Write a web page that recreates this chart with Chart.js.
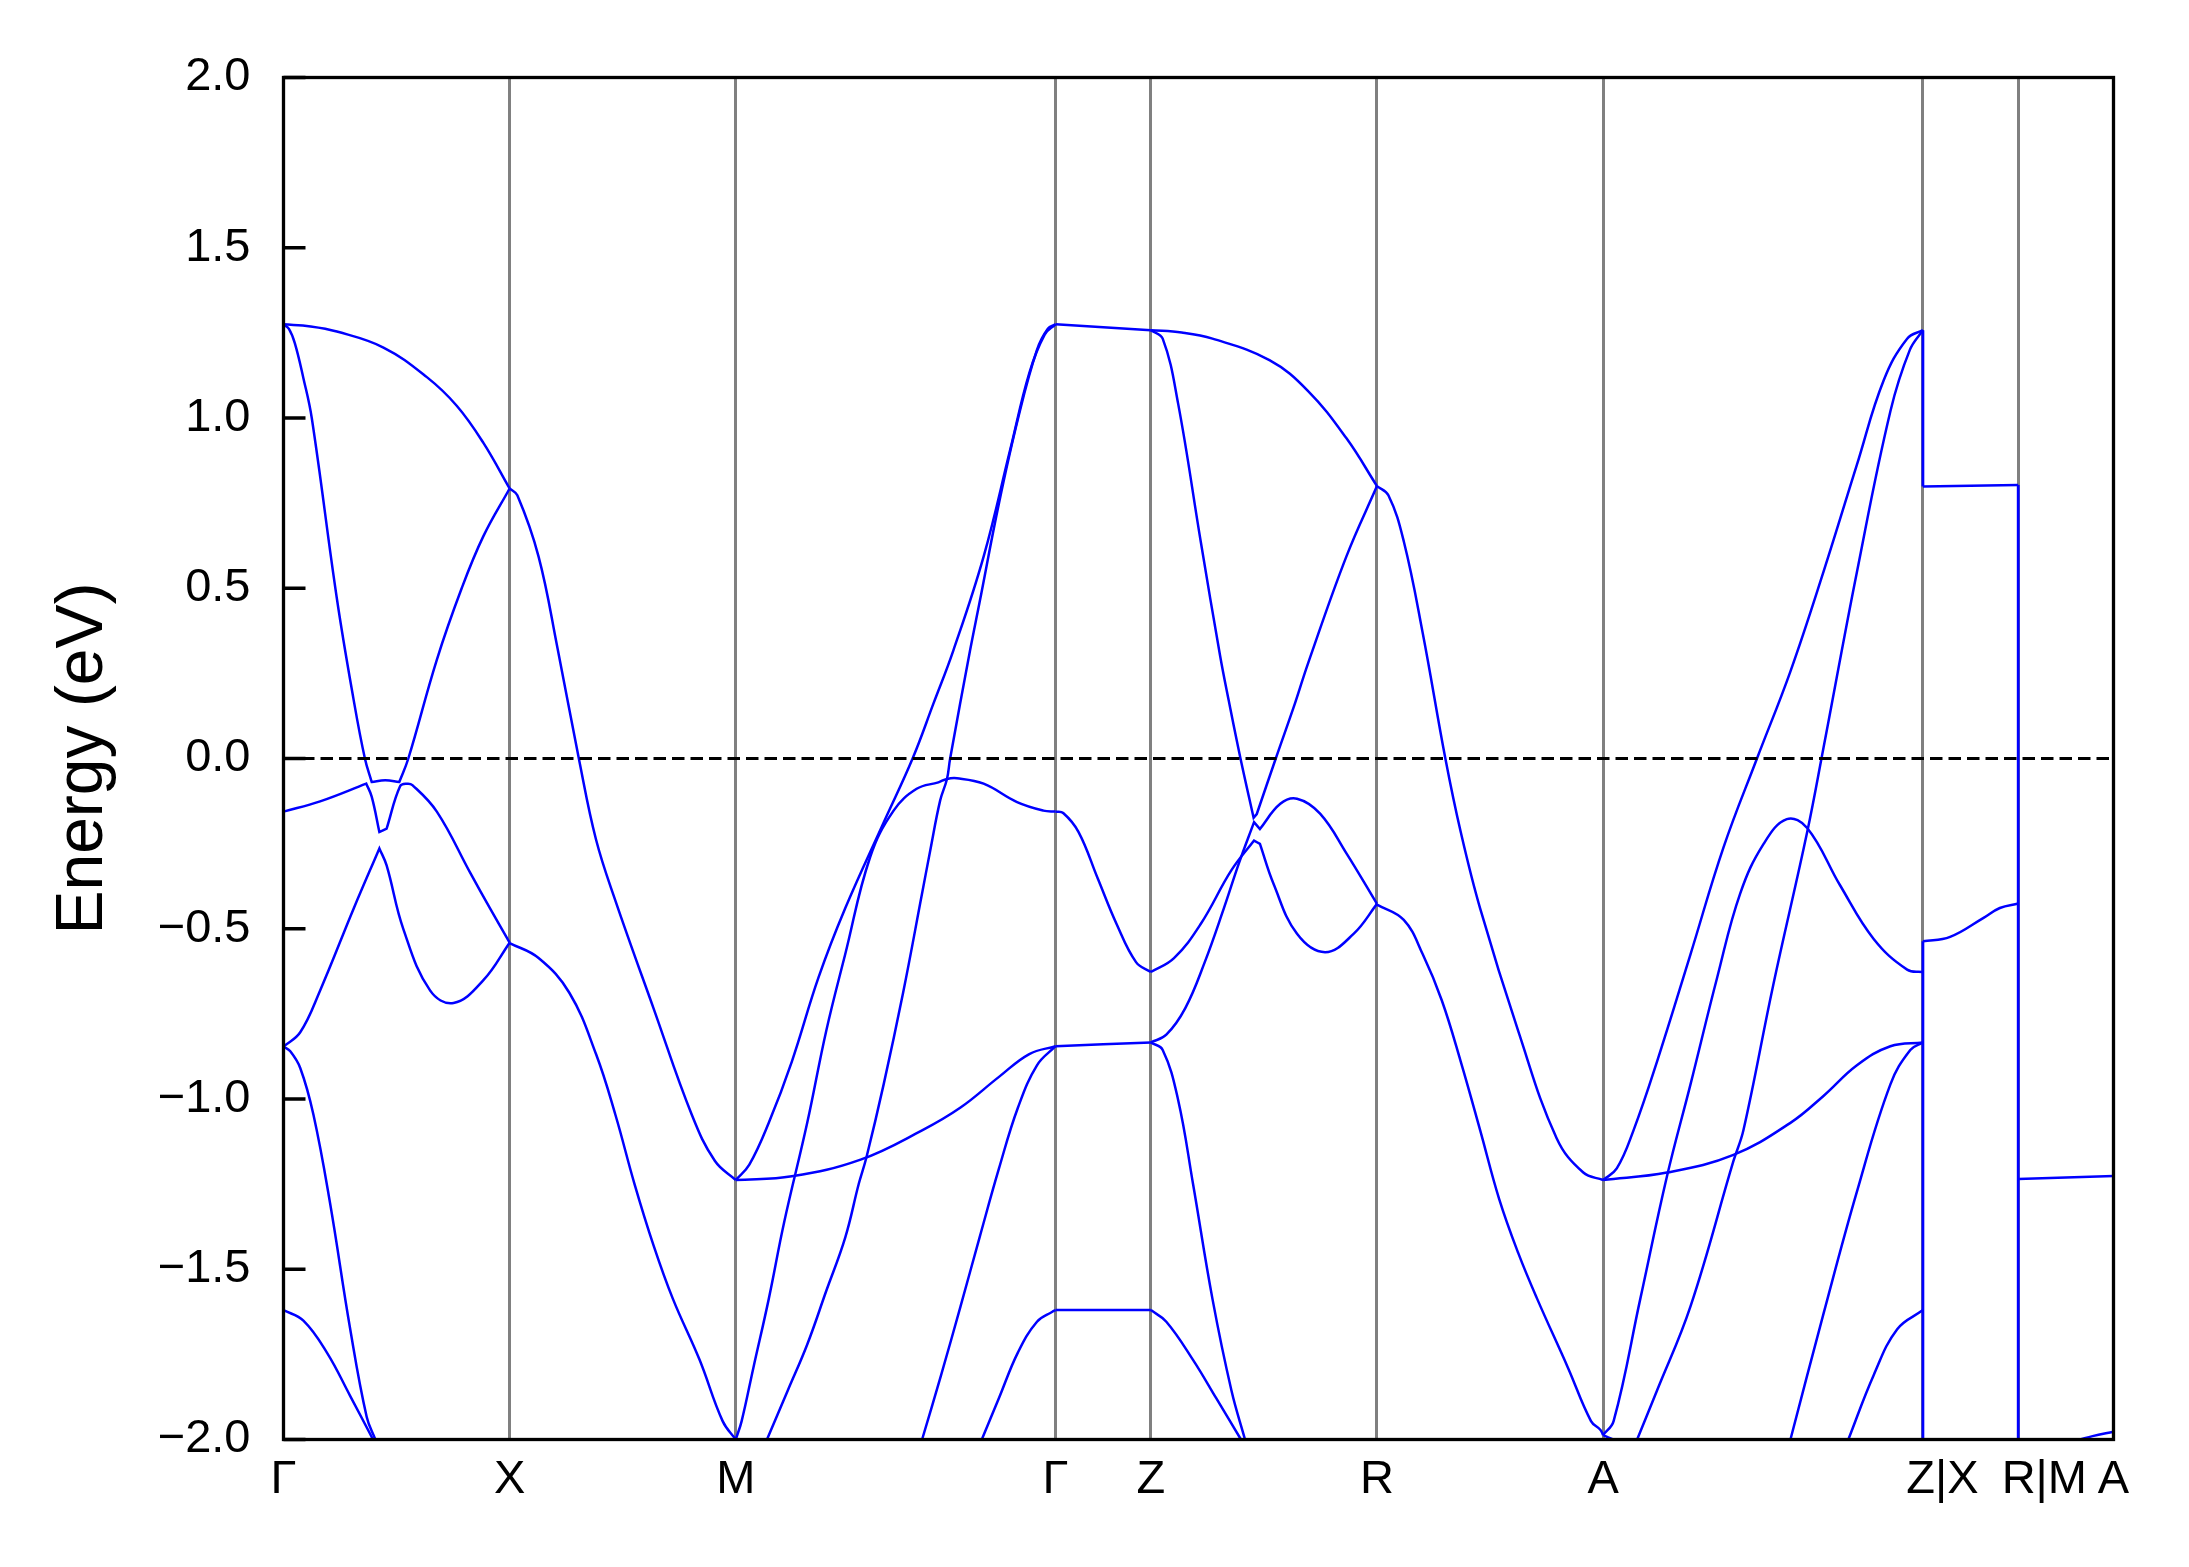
<!DOCTYPE html>
<html>
<head>
<meta charset="utf-8">
<script src="https://cdn.jsdelivr.net/npm/chart.js@4/dist/chart.umd.min.js"></script>
<style>
html,body{margin:0;padding:0;background:#ffffff;}
canvas{display:block;}
</style>
</head>
<body>
<canvas id="c" width="2189" height="1567" style="width:2189px;height:1567px"></canvas>
<script>
// ---- high-symmetry path ----
const kTicks = [0, 0.5, 1.0, 1.7071, 1.9178, 2.4178, 2.9178, 3.6249, 3.8356, 4.0463];
const kLabels = ['Γ', 'X', 'M', 'Γ', 'Z', 'R', 'A', '   Z|X', '    R|M', 'A'];
const energyTicks = [-2, -1.5, -1, -0.5, 0, 0.5, 1, 1.5, 2];
const fermiLevel = [[0, 0], [4.0463, 0]];

// ---- bands: [k, E(eV)]; a repeated point marks a sharp corner ----
// Γ → X
const bandGX1 = [[0,1.275],[0.06,1.269],[0.118,1.254],[0.221,1.207],[0.317,1.120],[0.383,1.036],[0.442,0.927],[0.5,0.793]];
const bandGX2 = [[0,1.275],[0.012,1.262],[0.025,1.22],[0.044,1.117],[0.0625,1.0],[0.118,0.47],[0.155,0.173],[0.18,0.0],[0.195,-0.069],[0.195,-0.069],[0.225,-0.064],[0.256,-0.069],[0.256,-0.069],[0.276,0.0],[0.339,0.29],[0.394,0.5],[0.442,0.653],[0.5,0.793]];
const bandGX3 = [[0,-0.156],[0.081,-0.126],[0.183,-0.074],[0.183,-0.074],[0.195,-0.112],[0.212,-0.216],[0.212,-0.216],[0.228,-0.206],[0.228,-0.206],[0.258,-0.081],[0.273,-0.074],[0.285,-0.078],[0.339,-0.156],[0.413,-0.336],[0.457,-0.441],[0.5,-0.541]];
const bandGX4 = [[0,-0.846],[0.037,-0.804],[0.081,-0.681],[0.155,-0.441],[0.212,-0.264],[0.212,-0.264],[0.228,-0.314],[0.265,-0.501],[0.324,-0.681],[0.376,-0.718],[0.442,-0.651],[0.5,-0.541]];
const bandGX5 = [[0,-0.846],[0.015,-0.86],[0.037,-0.909],[0.066,-1.045],[0.103,-1.306],[0.147,-1.672],[0.184,-1.934],[0.203,-2.0]];
const bandGX6 = [[0,-1.62],[0.044,-1.651],[0.096,-1.745],[0.147,-1.871],[0.198,-2.0]];
// X → M
const bandXM1 = [[0.5,0.793],[0.517,0.773],[0.564,0.593],[0.606,0.323],[0.653,0.0],[0.691,-0.238],[0.734,-0.418],[0.818,-0.733],[0.903,-1.047],[0.954,-1.182],[1.0,-1.238]];
const bandXM2 = [[0.5,-0.542],[0.564,-0.586],[0.632,-0.688],[0.691,-0.868],[0.734,-1.047],[0.776,-1.249],[0.818,-1.429],[0.861,-1.587],[0.920,-1.766],[0.971,-1.946],[1.0,-2.0]];
// M → Γ
const bandMG1 = [[1.0,-1.238],[1.030,-1.193],[1.073,-1.070],[1.124,-0.890],[1.183,-0.643],[1.242,-0.440],[1.327,-0.188],[1.391,0.0],[1.437,0.161],[1.481,0.317],[1.548,0.593],[1.607,0.908],[1.649,1.132],[1.683,1.245],[1.7071,1.275]];
const bandMG2 = [[1.069,-2.0],[1.115,-1.856],[1.158,-1.721],[1.200,-1.564],[1.242,-1.407],[1.272,-1.249],[1.289,-1.171],[1.327,-0.957],[1.370,-0.688],[1.412,-0.396],[1.430,-0.270],[1.452,-0.123],[1.467,-0.060],[1.474,0.0],[1.518,0.317],[1.539,0.458],[1.582,0.750],[1.624,0.998],[1.666,1.2],[1.69,1.262],[1.7071,1.275]];
const bandMG3 = [[1.0,-2.0],[1.013,-1.946],[1.039,-1.789],[1.073,-1.587],[1.107,-1.362],[1.158,-1.070],[1.200,-0.800],[1.242,-0.575],[1.297,-0.290],[1.349,-0.153],[1.400,-0.089],[1.448,-0.070],[1.467,-0.060],[1.489,-0.058],[1.548,-0.074],[1.622,-0.128],[1.680,-0.153],[1.7071,-0.156]];
const bandMG4 = [[1.0,-1.238],[1.124,-1.227],[1.276,-1.178],[1.412,-1.092],[1.497,-1.025],[1.582,-0.935],[1.649,-0.868],[1.7071,-0.845]];
const bandMG5 = [[1.412,-2.0],[1.454,-1.811],[1.497,-1.609],[1.539,-1.407],[1.582,-1.204],[1.624,-1.025],[1.666,-0.901],[1.7071,-0.845]];
const bandMG6 = [[1.544,-2.0],[1.582,-1.878],[1.624,-1.744],[1.666,-1.654],[1.700,-1.625],[1.7071,-1.62]];
// Γ → Z
const bandGZ1 = [[1.7071,1.275],[1.9178,1.258]];
const bandGZ2 = [[1.7071,-0.156],[1.724,-0.160],[1.758,-0.216],[1.800,-0.351],[1.842,-0.486],[1.885,-0.598],[1.9178,-0.627]];
const bandGZ3 = [[1.7071,-0.845],[1.9178,-0.834]];
const bandGZ4 = [[1.7071,-1.62],[1.9178,-1.62]];
// Z → R
const bandZR1 = [[1.9178,1.258],[1.986,1.251],[2.054,1.233],[2.180,1.170],[2.265,1.080],[2.350,0.941],[2.4178,0.800]];
const bandZR2 = [[1.9178,1.258],[1.944,1.233],[1.978,1.043],[2.028,0.638],[2.071,0.301],[2.090,0.170],[2.116,0.0],[2.145,-0.174],[2.145,-0.174],[2.152,-0.163],[2.152,-0.163],[2.194,0.0],[2.237,0.164],[2.265,0.278],[2.350,0.593],[2.4178,0.800]];
const bandZR3 = [[1.9178,-0.627],[1.969,-0.586],[2.028,-0.486],[2.096,-0.328],[2.146,-0.241],[2.146,-0.241],[2.159,-0.251],[2.159,-0.251],[2.189,-0.368],[2.241,-0.515],[2.303,-0.569],[2.366,-0.515],[2.4178,-0.427]];
const bandZR4 = [[1.9178,-0.834],[1.952,-0.811],[1.994,-0.733],[2.037,-0.598],[2.079,-0.441],[2.113,-0.306],[2.146,-0.187],[2.146,-0.187],[2.159,-0.207],[2.159,-0.207],[2.204,-0.133],[2.241,-0.118],[2.292,-0.162],[2.351,-0.280],[2.4178,-0.427]];
const bandZR5 = [[1.9178,-0.834],[1.944,-0.856],[1.978,-1.002],[2.011,-1.249],[2.054,-1.587],[2.096,-1.856],[2.126,-2.0]];
const bandZR6 = [[1.9178,-1.62],[1.952,-1.654],[2.011,-1.766],[2.062,-1.878],[2.117,-2.0]];
// R → A
const bandRA1 = [[2.4178,0.800],[2.443,0.773],[2.477,0.638],[2.519,0.368],[2.569,0.0],[2.603,-0.216],[2.646,-0.441],[2.730,-0.800],[2.815,-1.115],[2.874,-1.216],[2.9178,-1.238]];
const bandRA2 = [[2.4178,-0.429],[2.477,-0.474],[2.519,-0.575],[2.561,-0.710],[2.603,-0.890],[2.646,-1.092],[2.688,-1.294],[2.730,-1.452],[2.772,-1.587],[2.840,-1.789],[2.891,-1.946],[2.912,-1.972],[2.9178,-1.987]];
const bandRA3 = [[2.9178,-1.987],[2.94,-2.0]];
// A → Z
const bandAZ1 = [[2.9178,-1.238],[2.948,-1.204],[2.985,-1.092],[3.037,-0.890],[3.111,-0.575],[3.184,-0.261],[3.258,0.0],[3.332,0.256],[3.405,0.548],[3.479,0.863],[3.538,1.110],[3.590,1.233],[3.6249,1.258]];
const bandAZ2 = [[2.9178,-1.987],[2.941,-1.946],[3.000,-1.587],[3.059,-1.227],[3.111,-0.957],[3.170,-0.643],[3.221,-0.396],[3.273,-0.250],[3.324,-0.178],[3.369,-0.204],[3.442,-0.373],[3.516,-0.530],[3.590,-0.620],[3.6249,-0.627]];
const bandAZ3 = [[2.993,-2.0],[3.037,-1.856],[3.111,-1.609],[3.206,-1.182],[3.228,-1.092],[3.294,-0.665],[3.369,-0.216],[3.405,0.031],[3.479,0.548],[3.553,1.020],[3.596,1.2],[3.6249,1.258]];
const bandAZ4 = [[2.9178,-1.238],[3.059,-1.216],[3.206,-1.164],[3.332,-1.070],[3.405,-0.991],[3.479,-0.901],[3.553,-0.845],[3.6249,-0.834]];
const bandAZ5 = [[3.332,-2.0],[3.405,-1.631],[3.479,-1.272],[3.553,-0.957],[3.597,-0.856],[3.6249,-0.834]];
const bandAZ6 = [[3.460,-2.0],[3.516,-1.811],[3.568,-1.676],[3.6249,-1.62]];
// X → R and M → A
const bandXR1 = [[3.6249,0.799],[3.8356,0.803]];
const bandXR2 = [[3.6249,-0.537],[3.685,-0.524],[3.759,-0.468],[3.795,-0.439],[3.8356,-0.426]];
const bandMA1 = [[3.8356,-1.235],[4.0463,-1.226]];
const bandMA2 = [[3.972,-2.0],[4.0,-1.99],[4.0463,-1.977]];
// discontinuities of the path (Z|X, R|M)
const jumpZX1 = [[3.6249,1.258],[3.6249,0.799]];
const jumpZX2 = [[3.6249,-0.537],[3.6249,-2.0]];
const jumpRM = [[3.8356,0.803],[3.8356,-2.0]];

const bandList = [bandGX1,bandGX2,bandGX3,bandGX4,bandGX5,bandGX6,bandXM1,bandXM2,
  bandMG1,bandMG2,bandMG3,bandMG4,bandMG5,bandMG6,bandGZ1,bandGZ2,bandGZ3,bandGZ4,
  bandZR1,bandZR2,bandZR3,bandZR4,bandZR5,bandZR6,bandRA1,bandRA2,bandRA3,
  bandAZ1,bandAZ2,bandAZ3,bandAZ4,bandAZ5,bandAZ6,bandXR1,bandXR2,bandMA1,bandMA2];
const jumpList = [jumpZX1, jumpZX2, jumpRM];

const FONT = "'Liberation Sans', Arial, Helvetica, sans-serif";

const datasets = [{
  data: fermiLevel, showLine: true, borderColor: '#000000', borderWidth: 3.2,
  borderDash: [12.5, 6], pointRadius: 0, tension: 0
}];
bandList.forEach(b => datasets.push({
  data: b, showLine: true, borderColor: '#0000ff', borderWidth: 2.5,
  pointRadius: 0, tension: 0.4
}));
jumpList.forEach(b => datasets.push({
  data: b, showLine: true, borderColor: '#0000ff', borderWidth: 2.8,
  pointRadius: 0, tension: 0
}));

const framePlugin = {
  id: 'frame',
  afterDraw(chart) {
    const {ctx, chartArea: a, scales: {y}} = chart;
    ctx.save();
    ctx.strokeStyle = '#000000';
    ctx.lineWidth = 3.3;
    ctx.beginPath();
    energyTicks.forEach(v => {
      const py = y.getPixelForValue(v);
      ctx.moveTo(a.left, py);
      ctx.lineTo(a.left + 22, py);
    });
    ctx.stroke();
    ctx.strokeRect(a.left, a.top, a.right - a.left, a.bottom - a.top);
    ctx.restore();
  }
};

new Chart(document.getElementById('c'), {
  type: 'scatter',
  data: { datasets },
  options: {
    responsive: false,
    devicePixelRatio: 1,
    animation: false,
    events: [],
    layout: { padding: { left: 0, right: 75.5, top: 77.5, bottom: 0 } },
    plugins: { legend: { display: false }, tooltip: { enabled: false } },
    scales: {
      x: {
        type: 'linear',
        min: 0, max: 4.0463,
        afterBuildTicks: s => { s.ticks = kTicks.map(v => ({ value: v })); },
        afterFit: s => { s.height = 127.5; },
        grid: { color: '#808080', lineWidth: 3, drawTicks: false },
        border: { display: false },
        ticks: {
          autoSkip: false, maxRotation: 0, minRotation: 0, padding: 12,
          color: '#000000', font: { family: FONT, size: 47 },
          callback: (v, i) => kLabels[i]
        }
      },
      y: {
        min: -2, max: 2,
        afterBuildTicks: s => { s.ticks = energyTicks.map(v => ({ value: v })); },
        afterFit: s => { s.width = 283.5; },
        grid: { display: false, drawTicks: false },
        border: { display: false },
        ticks: {
          padding: 33, color: '#000000', font: { family: FONT, size: 47 },
          callback: v => Number(v).toFixed(1).replace('-', '\u2212')
        },
        title: {
          display: true, text: 'Energy (eV)', color: '#000000',
          font: { family: FONT, size: 66 }, padding: { top: 44, bottom: 0 }
        }
      }
    }
  },
  plugins: [framePlugin]
});
</script>
</body>
</html>
